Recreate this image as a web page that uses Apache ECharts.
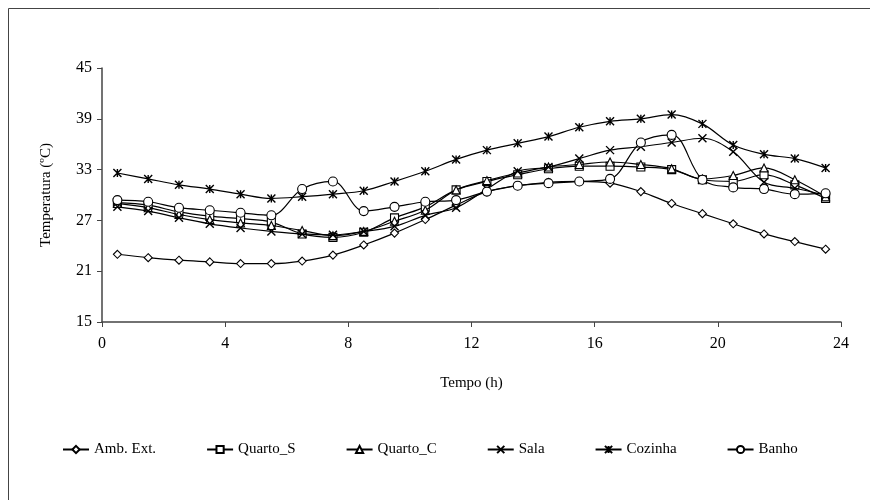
<!DOCTYPE html>
<html><head><meta charset="utf-8">
<script src="https://cdn.jsdelivr.net/npm/echarts@6/dist/echarts.min.js"></script>
<style>html,body{margin:0;padding:0;background:#fff}#c{width:870px;height:500px}</style>
</head><body><div id="c"></div>
<script>
var hours = [0.5,1.5,2.5,3.5,4.5,5.5,6.5,7.5,8.5,9.5,10.5,11.5,12.5,13.5,14.5,15.5,16.5,17.5,18.5,19.5,20.5,21.5,22.5,23.5];
var ambExt  = [23.0,22.6,22.3,22.1,21.9,21.9,22.2,22.9,24.1,25.5,27.1,28.8,30.4,31.1,31.5,31.6,31.4,30.4,29.0,27.8,26.6,25.4,24.5,23.6];
var quartoS = [29.1,28.8,28.0,27.5,27.2,26.8,25.4,25.0,25.6,27.3,28.6,30.6,31.6,32.4,33.1,33.4,33.4,33.3,33.0,31.8,31.6,32.4,31.2,29.6];
var quartoC = [29.0,28.5,27.7,27.1,26.7,26.4,25.8,25.2,25.7,26.9,28.2,30.6,31.7,32.6,33.3,33.6,33.9,33.6,33.1,31.9,32.3,33.2,31.8,29.8];
var sala    = [28.6,28.1,27.3,26.6,26.1,25.7,25.4,25.3,25.7,26.3,27.6,28.5,30.7,32.8,33.3,34.3,35.3,35.7,36.2,36.7,35.1,31.5,30.8,30.0];
var cozinha = [32.6,31.9,31.2,30.7,30.1,29.6,29.8,30.1,30.5,31.6,32.8,34.2,35.3,36.1,36.9,38.0,38.7,39.0,39.5,38.4,35.9,34.8,34.3,33.2];
var banho   = [29.4,29.2,28.5,28.2,27.9,27.6,30.7,31.6,28.1,28.6,29.2,29.4,30.4,31.1,31.4,31.6,31.9,36.2,37.1,31.8,30.9,30.7,30.1,30.2];
var names = ['Amb. Ext.','Quarto_S','Quarto_C','Sala','Cozinha','Banho'];
var seriesData = [ambExt, quartoS, quartoC, sala, cozinha, banho];
var symbols = ['diamond','rect','triangle','path://M0,0L10,10M10,0L0,10','path://M0,0L10,10M10,0L0,10M5,0L5,10','circle'];
var sizes = [8,8,8,8,8,9];

var font = '"Liberation Serif","Times New Roman",serif';
function pairs(arr){ return arr.map(function(v,i){ return [hours[i], v]; }); }
var series = seriesData.map(function(d, k){
  var isPath = symbols[k].indexOf('path://') === 0;
  return {
    name: names[k], type: 'line', data: pairs(d), smooth: 0.35,
    symbol: symbols[k], symbolSize: sizes[k], showAllSymbol: true,
    lineStyle: {color: '#000', width: 1.2},
    itemStyle: {color: isPath ? '#000' : '#fff', borderColor: '#000', borderWidth: isPath ? 1.4 : 1.1},
    emphasis: {disabled: true}, animation: false, z: 2 + k
  };
});
var chart = echarts.init(document.getElementById('c'), null, {renderer: 'canvas'});
chart.setOption({
  backgroundColor: '#fff',
  animation: false,
  grid: {left: 102, top: 68, width: 739, height: 254, containLabel: false},
  xAxis: {
    type: 'value', min: 0, max: 24, interval: 4,
    name: 'Tempo (h)', nameLocation: 'middle', nameGap: 54,
    nameTextStyle: {fontFamily: font, fontSize: 15, color: '#000'},
    axisLine: {lineStyle: {color: '#444', width: 1.5}},
    axisTick: {show: true, length: 5, inside: false, lineStyle: {color: '#444'}},
    axisLabel: {fontFamily: font, fontSize: 16, color: '#000', margin: 14},
    splitLine: {show: false}
  },
  yAxis: {
    type: 'value', min: 15, max: 45, interval: 6,
    name: 'Temperatura (ºC)', nameLocation: 'middle', nameGap: 48, nameRotate: 90,
    nameTextStyle: {fontFamily: font, fontSize: 15, color: '#000'},
    axisLine: {show: true, lineStyle: {color: '#444', width: 1.5}},
    axisTick: {show: true, length: 5, lineStyle: {color: '#444'}},
    axisLabel: {fontFamily: font, fontSize: 16, color: '#000', margin: 10},
    splitLine: {show: false}
  },
  legend: {
    data: names, top: 437, left: 57, itemGap: 50, itemWidth: 26, itemHeight: 9,
    textStyle: {fontFamily: font, fontSize: 15, color: '#000'}
  },
  graphic: [
    {type: 'line', shape: {x1: 8.5, y1: 8.5, x2: 8.5, y2: 500}, style: {stroke: '#444', lineWidth: 1}},
    {type: 'line', shape: {x1: 8.5, y1: 8.5, x2: 870, y2: 8.5}, style: {stroke: '#444', lineWidth: 1}}
  ],
  series: series
});
</script></body></html>
